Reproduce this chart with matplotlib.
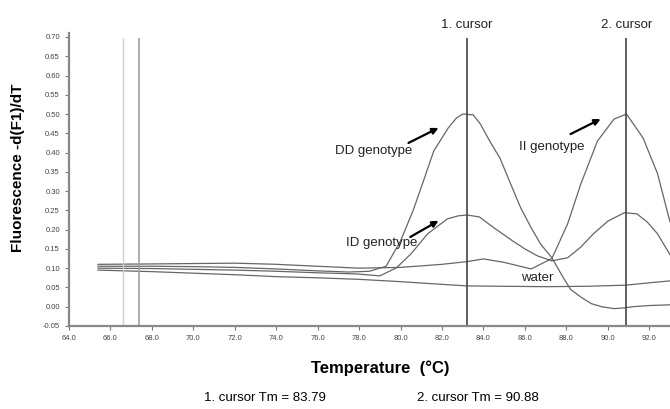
import numpy as np
import matplotlib.pyplot as plt


# melt curve readings (temperature in C, -d(F1)/dT)
dd_temp = [65.4, 68, 70, 72, 74, 76, 77.5, 78.5, 79.3, 80.0, 80.6, 81.1,
           81.6, 82.3, 82.7, 83.0, 83.5, 83.85, 84.3, 84.8, 85.3, 85.8,
           86.3, 86.75, 87.3, 87.8, 88.2, 88.7, 89.2, 89.7, 90.3, 90.8,
           91.2, 92.0, 93.0]
dd_vals = [0.105, 0.105, 0.104, 0.102, 0.098, 0.093, 0.090, 0.092, 0.105,
           0.171, 0.249, 0.326, 0.404, 0.464, 0.490, 0.500, 0.498, 0.474,
           0.430, 0.385, 0.320, 0.256, 0.205, 0.163, 0.127, 0.080, 0.045,
           0.025, 0.008, 0.000, -0.005, -0.003, 0.000, 0.003, 0.005]

id_temp = [65.4, 68, 70, 72, 74, 76, 77.9, 79.0, 79.8, 80.5, 81.3, 82.26,
           82.8, 83.2, 83.8, 84.5, 85.4, 86.0, 86.6, 87.3, 88.06, 88.7,
           89.3, 90.0, 90.8, 91.4, 91.9, 92.4, 93.0]
id_vals = [0.100, 0.099, 0.097, 0.095, 0.092, 0.088, 0.085, 0.080, 0.101,
           0.137, 0.189, 0.228, 0.236, 0.238, 0.233, 0.205, 0.171, 0.150,
           0.132, 0.119, 0.127, 0.155, 0.189, 0.222, 0.244, 0.241, 0.220,
           0.189, 0.135]

ii_temp = [65.4, 68, 70, 72, 74, 76, 78, 80, 82, 83.2, 84.0, 85.0, 86.3,
           87.3, 88.06, 88.7, 89.5, 90.3, 90.9, 91.7, 92.4, 93.0]
ii_vals = [0.110, 0.111, 0.112, 0.113, 0.110, 0.105, 0.100, 0.102, 0.110,
           0.117, 0.124, 0.115, 0.098, 0.125, 0.215, 0.319, 0.430, 0.487,
           0.500, 0.438, 0.345, 0.220]

water_temp = [65.4, 68, 70, 72, 74, 76, 78, 80, 82, 83.2, 85, 87, 89,
              90.9, 92, 93.0]
water_vals = [0.095, 0.091, 0.087, 0.083, 0.078, 0.075, 0.071, 0.065,
              0.058, 0.054, 0.053, 0.052, 0.053, 0.056, 0.062, 0.067]

cursor_pos = [83.2, 90.9]
cursor_names = ["1. cursor", "2. cursor"]
cursor_tm = ["1. cursor Tm = 83.79", "2. cursor Tm = 90.88"]
marker_pos = [66.6, 67.4]

# label text, label position, arrow tail, arrow head
labels = ["DD genotype", "ID genotype", "II genotype"]
label_xy = [(78.7, 0.405), (79.1, 0.165), (87.3, 0.415)]
arrow_tail = [(80.38, 0.425), (80.47, 0.181), (88.2, 0.448)]
arrow_head = [(81.83, 0.464), (81.83, 0.223), (89.65, 0.487)]

x_ticks = np.arange(64, 93, 2)
y_ticks = np.arange(-0.05, 0.701, 0.05)


plt.rcParams["font.family"] = ["Liberation Sans", "DejaVu Sans"]

fig = plt.figure(figsize=(6.7, 4.09), dpi=100)
ax = fig.add_axes([0.103, 0.203, 0.897, 0.716])

line_color = "#666666"
for t, v in [(dd_temp, dd_vals), (id_temp, id_vals),
             (ii_temp, ii_vals), (water_temp, water_vals)]:
    ax.plot(t, v, color=line_color, lw=0.9)

# reference marker lines on the left
ax.vlines(marker_pos[0], -0.05, 0.697, color="#d0d0d0", lw=1.0)
ax.vlines(marker_pos[1], -0.05, 0.697, color="#a0a0a0", lw=1.2)

# cursors
for pos, name in zip(cursor_pos, cursor_names):
    ax.vlines(pos, -0.05, 0.697, color="#444444", lw=1.2)
    ax.text(pos, 0.715, name, ha="center", va="bottom", fontsize=9.5,
            color="#222222")

for text, xy, tail, head in zip(labels, label_xy, arrow_tail, arrow_head):
    ax.text(xy[0], xy[1], text, ha="center", va="center", fontsize=9.5,
            color="#222222")
    ax.annotate("", xy=head, xytext=tail,
                arrowprops=dict(arrowstyle="-|>", color="black", lw=1.6,
                                mutation_scale=9, shrinkA=0, shrinkB=0))
ax.text(86.6, 0.075, "water", ha="center", va="center", fontsize=9.5,
        color="#222222")

ax.set_xlim(64, 93)
ax.set_ylim(-0.05, 0.71)
ax.set_xticks(x_ticks)
ax.set_xticklabels([f"{t:.1f}" for t in x_ticks])
ax.set_yticks(y_ticks)
ax.set_yticklabels([f"{t:.2f}" for t in y_ticks])
ax.tick_params(labelsize=5.5, labelcolor="#444444", color="#777777",
               length=3, width=0.8)

for side in ["top", "right"]:
    ax.spines[side].set_visible(False)
for side in ["left", "bottom"]:
    ax.spines[side].set_color("#888888")
    ax.spines[side].set_linewidth(1.6)

fig.text(0.027, 0.59, "Fluorescence -d(F1)/dT", rotation=90,
         ha="center", va="center", fontsize=11, fontweight="bold")
fig.text(0.567, 0.10, "Temperature  (\u00b0C)", ha="center", va="center",
         fontsize=12, fontweight="bold")
fig.text(0.396, 0.027, cursor_tm[0], ha="center", va="center", fontsize=9.5)
fig.text(0.713, 0.027, cursor_tm[1], ha="center", va="center", fontsize=9.5)

fig.savefig("out.png", dpi=100)
